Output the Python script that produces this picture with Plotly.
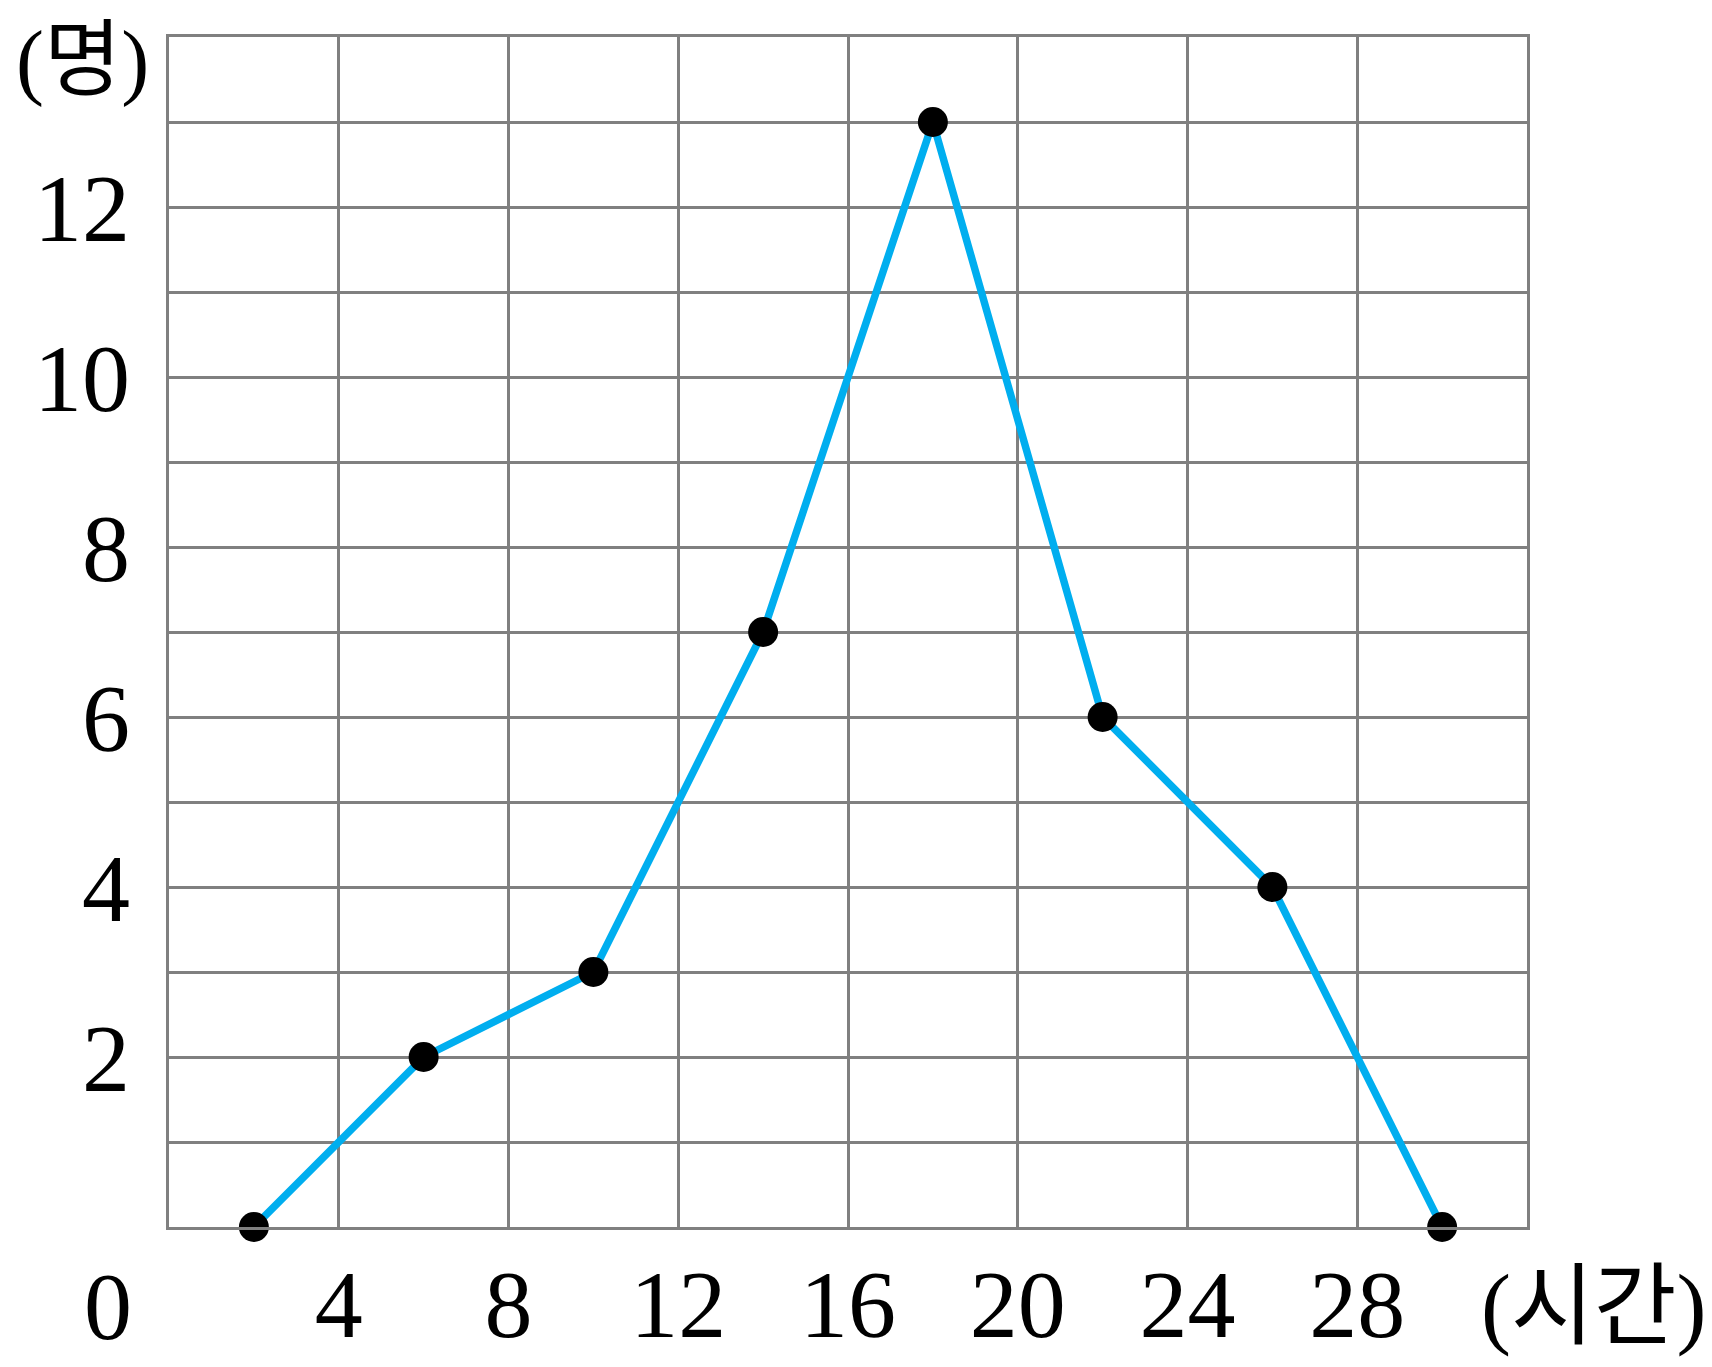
import plotly.graph_objects as go

# Data: class midpoints (시간) and frequencies (명)
hours = [2, 6, 10, 14, 18, 22, 26, 30]
people = [0, 2, 3, 7, 13, 6, 4, 0]

x_tickvals = [0, 4, 8, 12, 16, 20, 24, 28, 32]
x_ticktext = ["", "4", "8", "12", "16", "20", "24", "28", ""]
y_tickvals = list(range(0, 15))
y_ticktext = ["", "", "2", "", "4", "", "6", "", "8", "", "10", "", "12", "", ""]

FONT = "Liberation Serif, 'Noto Sans CJK KR', serif"
GRID = "#808080"

fig = go.Figure()
fig.add_trace(go.Scatter(
    x=hours, y=people, mode="lines+markers",
    line=dict(color="#00AEEF", width=7.5),
    marker=dict(color="black", size=30),
    cliponaxis=False,
    showlegend=False,
))

fig.update_layout(
    width=1704, height=1359,
    margin=dict(l=161, r=185, t=29, b=140, autoexpand=False),
    paper_bgcolor="white", plot_bgcolor="white",
    font=dict(family=FONT, size=96, color="black"),
    xaxis=dict(
        range=[0, 32], tickvals=x_tickvals, ticktext=x_ticktext,
        showgrid=True, gridcolor=GRID, gridwidth=2.5,
        showline=True, linecolor=GRID, linewidth=2.5, mirror=True,
        ticks="", ticklabelstandoff=-8,
        zeroline=False, fixedrange=True, automargin=False,
    ),
    yaxis=dict(
        range=[0, 14], tickvals=y_tickvals, ticktext=y_ticktext,
        showgrid=True, gridcolor=GRID, gridwidth=2.5,
        showline=True, linecolor=GRID, linewidth=2.5, mirror=True,
        ticks="outside", ticklen=17, tickcolor="rgba(0,0,0,0)",
        zeroline=False, fixedrange=True, automargin=False,
    ),
)

fig.add_annotation(text="0", xref="paper", yref="paper", x=-0.045, y=-0.067,
                   showarrow=False, xanchor="center", yanchor="middle",
                   font=dict(family=FONT, size=96))
fig.add_annotation(text="(시간)", xref="paper", yref="paper", x=1.049, y=-0.067,
                   showarrow=False, xanchor="center", yanchor="middle",
                   font=dict(family=FONT, size=90))
fig.add_annotation(text="(명)", xref="paper", yref="paper", x=-0.064, y=0.98,
                   showarrow=False, xanchor="center", yanchor="middle",
                   font=dict(family=FONT, size=84))

fig.write_html("out.html")
